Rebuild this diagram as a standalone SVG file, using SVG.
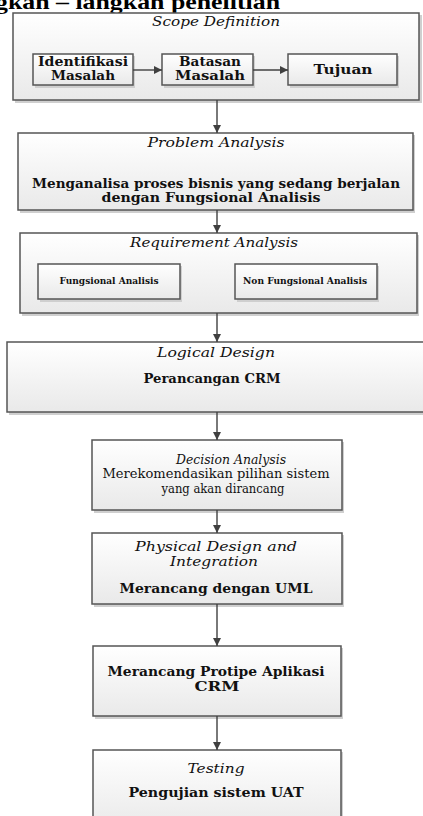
<svg xmlns="http://www.w3.org/2000/svg" width="423" height="816" viewBox="0 0 423 816">
<defs>
<linearGradient id="g" x1="0" y1="0" x2="0" y2="1">
<stop offset="0" stop-color="#ffffff"/>
<stop offset="1" stop-color="#e9e9e9"/>
</linearGradient>
<marker id="ah" viewBox="0 0 10 10" refX="10" refY="5" markerWidth="8" markerHeight="8" markerUnits="userSpaceOnUse" orient="auto">
<path d="M0,0 L10,5 L0,10 Z" fill="#404040"/>
</marker>
<style>
.box{fill:url(#g);stroke:#555;stroke-width:1.5}
.sh{fill:#cfcfcf}
.it{font-family:"DejaVu Serif","Liberation Serif",serif;font-style:italic;font-size:13px;fill:#111;text-anchor:middle}
.bd{font-family:"DejaVu Serif","Liberation Serif",serif;font-weight:bold;font-size:13px;fill:#111;text-anchor:middle}
.rg{font-family:"DejaVu Serif","Liberation Serif",serif;font-size:12px;fill:#111;text-anchor:middle}
.sm{font-family:"DejaVu Serif","Liberation Serif",serif;font-weight:bold;font-size:9.5px;fill:#111;text-anchor:middle}
.ttl{font-family:"Liberation Serif",serif;font-weight:bold;font-size:21px;fill:#000}
.cn{stroke:#404040;stroke-width:1.4;fill:none;marker-end:url(#ah)}
</style>
</defs>
<rect width="423" height="816" fill="#ffffff"/>
<text class="ttl" x="-5" y="8.5" textLength="285" lengthAdjust="spacingAndGlyphs">gkan – langkah penelitian</text>

<g id="scope">
<rect class="sh" x="15" y="15" width="407" height="88"/>
<rect class="box" x="13" y="13" width="406" height="87"/>
<text class="it" x="216" y="26" style="font-size:12.5px" textLength="128" lengthAdjust="spacingAndGlyphs">Scope Definition</text>
</g>
<g id="identifikasi">
<rect class="sh" x="35" y="56" width="100" height="32"/>
<rect class="box" x="33" y="54" width="100" height="31"/>
<text class="bd" x="83" y="66" textLength="90" lengthAdjust="spacingAndGlyphs">Identifikasi</text>
<text class="bd" x="83" y="80" textLength="64" lengthAdjust="spacingAndGlyphs">Masalah</text>
</g>
<g id="batasan">
<rect class="sh" x="164" y="56" width="91" height="32"/>
<rect class="box" x="162" y="54" width="91" height="31"/>
<text class="bd" x="210" y="66" textLength="62" lengthAdjust="spacingAndGlyphs">Batasan</text>
<text class="bd" x="210" y="80" textLength="70" lengthAdjust="spacingAndGlyphs">Masalah</text>
</g>
<g id="tujuan">
<rect class="sh" x="290" y="56" width="109" height="32"/>
<rect class="box" x="288" y="54" width="109" height="31"/>
<text class="bd" x="343" y="74" textLength="59" lengthAdjust="spacingAndGlyphs">Tujuan</text>
</g>

<g id="problem">
<rect class="sh" x="20" y="135" width="395" height="78"/>
<rect class="box" x="18" y="133" width="395" height="77"/>
<text class="it" x="216" y="147" textLength="137" lengthAdjust="spacingAndGlyphs">Problem Analysis</text>
<text class="bd" x="216" y="188" textLength="368" lengthAdjust="spacingAndGlyphs">Menganalisa proses bisnis yang sedang berjalan</text>
<text class="bd" x="211" y="202" textLength="219" lengthAdjust="spacingAndGlyphs">dengan Fungsional Analisis</text>
</g>

<g id="requirement">
<rect class="sh" x="22" y="235" width="397" height="81"/>
<rect class="box" x="20" y="233" width="397" height="80"/>
<text class="it" x="214" y="247" textLength="168" lengthAdjust="spacingAndGlyphs">Requirement Analysis</text>
</g>
<g id="fungsional">
<rect class="sh" x="40" y="266" width="142" height="36"/>
<rect class="box" x="38" y="264" width="142" height="35"/>
<text class="sm" x="109" y="284" textLength="99" lengthAdjust="spacingAndGlyphs">Fungsional Analisis</text>
</g>
<g id="nonfungsional">
<rect class="sh" x="237" y="266" width="142" height="36"/>
<rect class="box" x="235" y="264" width="142" height="35"/>
<text class="sm" x="305" y="284" textLength="124" lengthAdjust="spacingAndGlyphs">Non Fungsional Analisis</text>
</g>

<g id="logical">
<rect class="sh" x="9" y="344" width="430" height="71"/>
<rect class="box" x="7" y="342" width="430" height="70"/>
<text class="it" x="216" y="357" textLength="118" lengthAdjust="spacingAndGlyphs">Logical Design</text>
<text class="bd" x="212" y="383" textLength="137" lengthAdjust="spacingAndGlyphs">Perancangan CRM</text>
</g>

<g id="decision">
<rect class="sh" x="94" y="442" width="250" height="71"/>
<rect class="box" x="92" y="440" width="250" height="70"/>
<text class="it" x="231" y="464" textLength="110" lengthAdjust="spacingAndGlyphs">Decision Analysis</text>
<text class="rg" x="216" y="478" textLength="227" lengthAdjust="spacingAndGlyphs">Merekomendasikan pilihan sistem</text>
<text class="rg" x="223" y="493" textLength="123" lengthAdjust="spacingAndGlyphs">yang akan dirancang</text>
</g>

<g id="physical">
<rect class="sh" x="94" y="535" width="250" height="72"/>
<rect class="box" x="92" y="533" width="250" height="71"/>
<text class="it" x="216" y="551" style="font-size:12px" textLength="162" lengthAdjust="spacingAndGlyphs">Physical Design and</text>
<text class="it" x="214" y="566" style="font-size:12px" textLength="88" lengthAdjust="spacingAndGlyphs">Integration</text>
<text class="bd" x="216" y="593" textLength="193" lengthAdjust="spacingAndGlyphs">Merancang dengan UML</text>
</g>

<g id="prototype">
<rect class="sh" x="95" y="648" width="248" height="71"/>
<rect class="box" x="93" y="646" width="248" height="70"/>
<text class="bd" x="216" y="676" style="font-size:12.5px" textLength="217" lengthAdjust="spacingAndGlyphs">Merancang Protipe Aplikasi</text>
<text class="bd" x="217" y="691" style="font-size:12.5px" textLength="45" lengthAdjust="spacingAndGlyphs">CRM</text>
</g>

<g id="testing">
<rect class="sh" x="95" y="752" width="248" height="80"/>
<rect class="box" x="93" y="750" width="248" height="80"/>
<text class="it" x="216" y="773" textLength="57" lengthAdjust="spacingAndGlyphs">Testing</text>
<text class="bd" x="216" y="797" textLength="175" lengthAdjust="spacingAndGlyphs">Pengujian sistem UAT</text>
</g>

<g id="connectors">
<line class="cn" x1="133" y1="70" x2="162" y2="70"/>
<line class="cn" x1="253" y1="70" x2="288" y2="70"/>
<line class="cn" x1="217" y1="100" x2="217" y2="133"/>
<line class="cn" x1="217" y1="210" x2="217" y2="233"/>
<line class="cn" x1="217" y1="313" x2="217" y2="342"/>
<line class="cn" x1="217" y1="412" x2="217" y2="440"/>
<line class="cn" x1="217" y1="510" x2="217" y2="533"/>
<line class="cn" x1="217" y1="604" x2="217" y2="646"/>
<line class="cn" x1="217" y1="716" x2="217" y2="750"/>
</g>
</svg>
